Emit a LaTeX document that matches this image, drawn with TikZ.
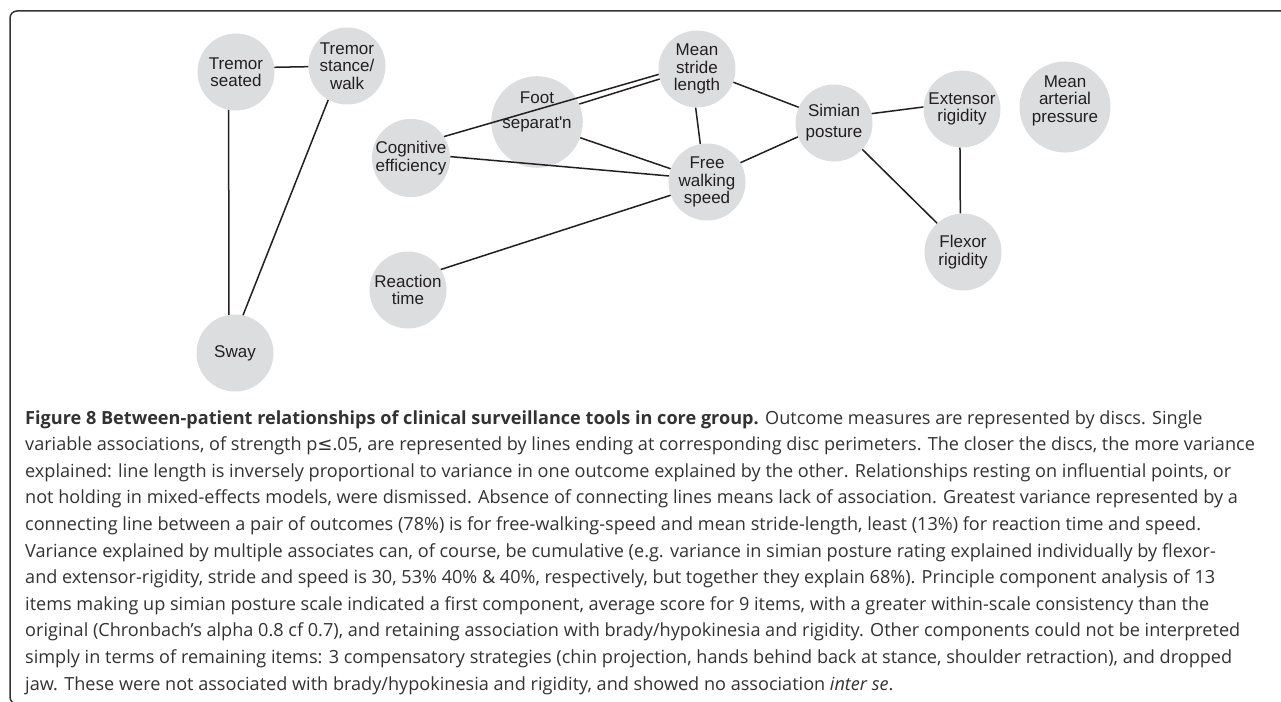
\documentclass[tikz,border=0pt]{standalone}
\usepackage{fontspec}
\setmainfont{Open Sans}
\newfontfamily\discfont{Liberation Sans}
\newfontfamily\symfont{DejaVu Sans}
\definecolor{discgrey}{RGB}{220,221,223}
\definecolor{ink}{RGB}{35,31,32}
\definecolor{captext}{RGB}{50,50,50}
\tikzset{
  disc/.style={circle,fill=discgrey,minimum size=77pt,inner sep=0pt,align=center,
    text=ink,font=\discfont\fontsize{17}{17.5}\selectfont},
  link/.style={draw=ink,line width=1.5pt},
}
\begin{document}
\begin{tikzpicture}[x=1pt,y=-1pt]
\useasboundingbox (0,0) rectangle (1281,701);
%Frame
\begin{scope}
\clip (0,0) rectangle (1281,701);
\draw[line width=1.5pt,draw=black!80,rounded corners=7pt] (10,11) rectangle (1300,704);
\end{scope}

%Discs
\node[disc] (ts) at (236,72) {Tremor\\seated};
\node[disc] (tw) at (347,66) {Tremor\\stance/\\walk};
\node[disc] (sway) at (235,353) {Sway};
\node[disc,text depth=23pt] (foot) at (537,122) {Foot\\[7.5pt]separat'n};
\node[disc] (cog) at (411,158) {Cognitive\\efficiency};
\node[disc] (react) at (408,290) {Reaction\\time};
\node[disc] (msl) at (697,69) {Mean\\stride\\length};
\node[disc] (fws) at (707,182) {Free\\walking\\speed};
\node[disc] (sim) at (834,123) {Simian\\[3.5pt]posture};
\node[disc] (ext) at (962,109) {Extensor\\rigidity};
\node[disc,text depth=16pt] (map) at (1065,107) {Mean\\arterial\\pressure};
\node[disc] (flex) at (963,252) {Flexor\\rigidity};

%Links
\draw[link] (ts.7) -- (tw.181);
\draw[link] (ts.259) -- (sway.99);
\draw[link] (tw.241) -- (sway.78);
\draw[link] (cog.33) -- (msl.188);
\draw[link] (foot.23) -- (msl.195);
\draw[link] (foot.340) -- (fws.160);
\draw[link] (cog.2) -- (fws.171);
\draw[link] (react.32) -- (fws.200);
\draw[link] (msl.268) -- (fws.100);
\draw[link] (msl.340) -- (sim.156);
\draw[link] (fws.30) -- (sim.201);
\draw[link] (sim.14) -- (ext.177);
\draw[link] (sim.317) -- (flex.132);
\draw[link] (ext.267) -- (flex.94);

%Caption
\node[anchor=north west,inner sep=0pt,align=left,text=captext,
  font=\fontsize{18.1}{26.6}\selectfont] (cap) at (25,410) {%
\textbf{Figure 8 Between-patient relationships of clinical surveillance tools in core group.} Outcome measures are represented by discs. Single\\
variable associations, of strength p{\symfont ≤}.05, are represented by lines ending at corresponding disc perimeters. The closer the discs, the more variance\\
explained: line length is inversely proportional to variance in one outcome explained by the other. Relationships resting on influential points, or\\
not holding in mixed-effects models, were dismissed. Absence of connecting lines means lack of association. Greatest variance represented by a\\
connecting line between a pair of outcomes (78\%) is for free-walking-speed and mean stride-length, least (13\%) for reaction time and speed.\\
Variance explained by multiple associates can, of course, be cumulative (e.g. variance in simian posture rating explained individually by flexor-\\
and extensor-rigidity, stride and speed is 30, 53\% 40\% \& 40\%, respectively, but together they explain 68\%). Principle component analysis of 13\\
items making up simian posture scale indicated a first component, average score for 9 items, with a greater within-scale consistency than the\\
original (Chronbach’s alpha 0.8 cf 0.7), and retaining association with brady/hypokinesia and rigidity. Other components could not be interpreted\\
simply in terms of remaining items: 3 compensatory strategies (chin projection, hands behind back at stance, shoulder retraction), and dropped\\
jaw. These were not associated with brady/hypokinesia and rigidity, and showed no association \textit{inter se}.};
\end{tikzpicture}
\end{document}
